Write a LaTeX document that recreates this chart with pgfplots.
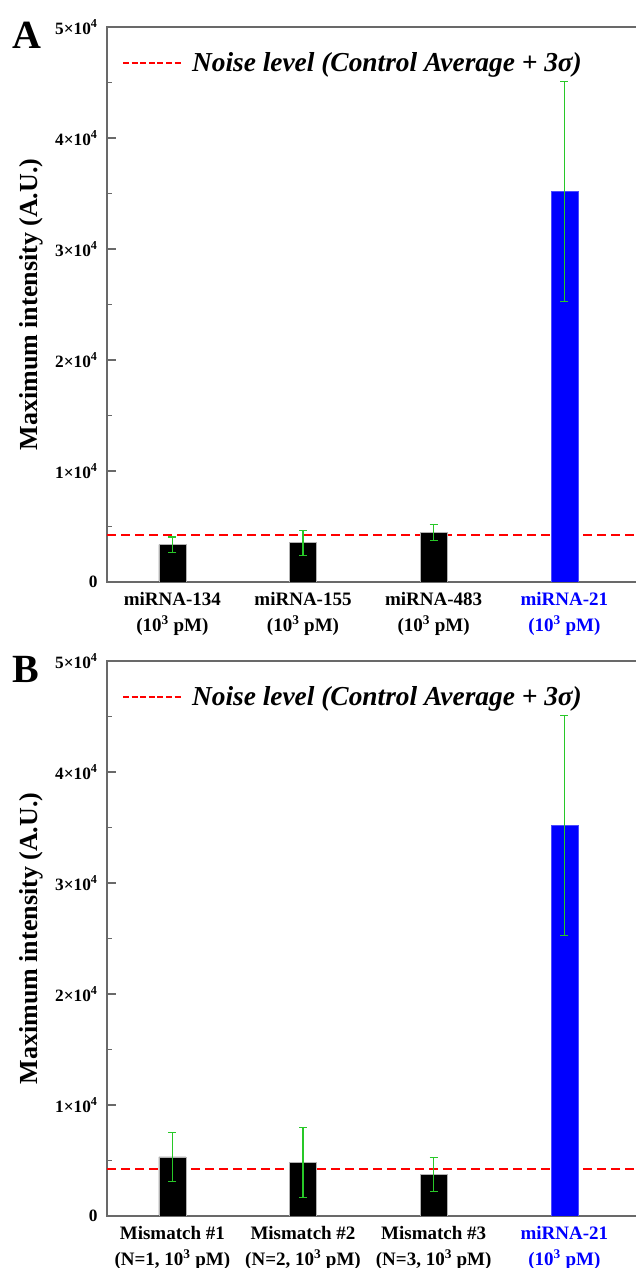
\documentclass[border=0pt]{standalone}
\usepackage{fontspec}
\setmainfont{Liberation Serif}
\usepackage{pgfplots}
\pgfplotsset{compat=1.18}
\usepackage{pgfplotstable}
\definecolor{axgray}{RGB}{105,105,105}
\definecolor{errgreen}{RGB}{40,200,40}

\pgfplotstableread{
x y err
1 3360 690
2 3540 1125
3 4470 720
}\dataA
\pgfplotstableread{
x y err
4 35160 9900
}\targetA
\pgfplotstableread{
x y err
1 5320 2210
2 4840 3140
3 3730 1545
}\dataB
\pgfplotstableread{
x y err
4 35160 9900
}\targetB

\pgfplotsset{mystyle/.style={
  scale only axis, width=530pt, height=555pt,
  xmin=0.5, xmax=4.556, ymin=0, ymax=50000,
  axis line style={axgray, line width=1.5pt},
  scaled y ticks=false,
  ytick={0,10000,20000,30000,40000,50000},
  yticklabels={\textbf{0},\textbf{1×10\textsuperscript{4}},\textbf{2×10\textsuperscript{4}},\textbf{3×10\textsuperscript{4}},\textbf{4×10\textsuperscript{4}},\textbf{5×10\textsuperscript{4}}},
  minor ytick={5000,15000,25000,35000,45000},
  ytick pos=left, tick align=inside,
  major tick length=9pt, minor tick length=5pt,
  every tick/.style={axgray, line width=1.2pt},
  xtick={1,2,3,4}, xtick style={draw=none},
  yticklabel style={font=\bfseries\fontsize{17.3}{19}\selectfont, xshift=-6pt},
  xticklabel style={font=\bfseries\fontsize{19}{25.5}\selectfont, align=center, yshift=-7pt},
  ylabel={Maximum intensity (A.U.)},
  ylabel style={font=\bfseries\fontsize{26}{30}\selectfont, at={(axis description cs:-0.143,0.5)}, anchor=center},
  legend style={at={(0.028,0.935)}, anchor=west, draw=none, fill=none, inner sep=0pt,
    font=\bfseries\itshape\fontsize{27.4}{30}\selectfont},
}}
\pgfplotsset{noise/.style={red, line width=2pt, dash pattern=on 9pt off 5pt,
  legend image code/.code={\draw[red, line width=2pt, dash pattern=on 6pt off 2.6pt] (0pt,0pt) -- (60pt,0pt); \path (66pt,0pt);}}}
\pgfplotsset{errs/.style={error bars/.cd, y dir=both, y explicit,
  error bar style={errgreen, line width=1.2pt},
  error mark options={rotate=90, errgreen, mark size=4pt, line width=1.2pt}}}

\begin{document}
\begin{tikzpicture}
\path[use as bounding box] (0pt,0pt) rectangle (635pt,1268pt);
% Panel A
\begin{axis}[mystyle, at={(107pt,686pt)}, anchor=south west,
  xticklabels={{miRNA-134\\(10\textsuperscript{3} pM)},{miRNA-155\\(10\textsuperscript{3} pM)},{miRNA-483\\(10\textsuperscript{3} pM)},{\textcolor{blue}{miRNA-21}\\\textcolor{blue}{(10\textsuperscript{3} pM)}}}]
\addplot[noise] coordinates {(0.5,4250) (4.556,4250)};
\addlegendentry{Noise level (Control Average + 3σ)}
\addplot[ybar, bar width=27pt, fill=black, draw=gray!60, line width=0.5pt, forget plot, errs] table[x=x, y=y, y error=err] {\dataA};
\addplot[ybar, bar width=27pt, fill=blue, draw=blue!70, line width=0.5pt, forget plot, errs] table[x=x, y=y, y error=err] {\targetA};
\end{axis}
\node[font=\bfseries\fontsize{40}{41}\selectfont, anchor=north west, inner sep=0pt] at (12pt,1246pt) {A};
% Panel B
\begin{axis}[mystyle, at={(107pt,52pt)}, anchor=south west,
  xticklabels={{Mismatch \#1\\(N=1, 10\textsuperscript{3} pM)},{Mismatch \#2\\(N=2, 10\textsuperscript{3} pM)},{Mismatch \#3\\(N=3, 10\textsuperscript{3} pM)},{\textcolor{blue}{miRNA-21}\\\textcolor{blue}{(10\textsuperscript{3} pM)}}}]
\addplot[noise] coordinates {(0.5,4250) (4.556,4250)};
\addlegendentry{Noise level (Control Average + 3σ)}
\addplot[ybar, bar width=27pt, fill=black, draw=gray!60, line width=0.5pt, forget plot, errs] table[x=x, y=y, y error=err] {\dataB};
\addplot[ybar, bar width=27pt, fill=blue, draw=blue!70, line width=0.5pt, forget plot, errs] table[x=x, y=y, y error=err] {\targetB};
\end{axis}
\node[font=\bfseries\fontsize{40}{41}\selectfont, anchor=north west, inner sep=0pt] at (12pt,612pt) {B};
\end{tikzpicture}
\end{document}
